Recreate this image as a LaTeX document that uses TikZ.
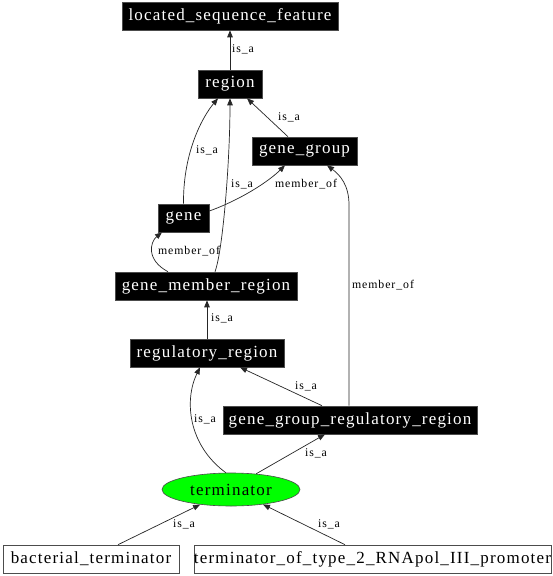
\documentclass[tikz,border=0pt]{standalone}
\usepackage{fontspec}
\setmainfont{Liberation Serif}
\newfontfamily\nodefont{Liberation Serif}[LetterSpace=7]
\newfontfamily\lblfont{Liberation Serif}[LetterSpace=8]
\usetikzlibrary{arrows.meta,shapes.geometric}
\begin{document}
\begin{tikzpicture}[x=1pt,y=-1pt,
  blk/.style={draw=black!70,fill=black,text=white,inner sep=0pt,minimum height=28pt,font=\nodefont\fontsize{17}{19}\selectfont,line width=0.6pt},
  wht/.style={draw=black!70,fill=white,text=black,inner sep=0pt,minimum height=28pt,font=\nodefont\fontsize{17}{19}\selectfont,line width=0.6pt},
  lbl/.style={inner sep=0pt,font=\lblfont\fontsize{11.8}{13}\selectfont},
  edge/.style={draw=black!85,line width=0.7pt,-{Triangle[length=7pt,width=5.5pt]}}]
\useasboundingbox[fill=white] (0,0) rectangle (552,576);
\node[blk,minimum width=216pt] (lsf) at (230,16) {located\_sequence\_feature};
\node[blk,minimum width=64pt] (region) at (230,84) {region};
\node[blk,minimum width=105pt] (gg) at (304.5,151) {gene\_group};
\node[blk,minimum width=51pt] (gene) at (183.5,218) {gene};
\node[blk,minimum width=182pt] (gmr) at (206,286) {gene\_member\_region};
\node[blk,minimum width=154pt] (reg) at (207,353) {regulatory\_region};
\node[blk,minimum width=254pt] (ggrr) at (350,420) {gene\_group\_regulatory\_region};
\node[ellipse,draw=black!70,fill={rgb,255:red,0;green,255;blue,0},inner sep=0pt,minimum width=138pt,minimum height=33pt,font=\nodefont\fontsize{17}{19}\selectfont,line width=0.6pt] (term) at (231,489.5) {terminator};
\node[wht,minimum width=176pt] (bact) at (91,559) {bacterial\_terminator};
\node[wht,minimum width=357pt] (tot) at (372.5,559) {terminator\_of\_type\_2\_RNApol\_III\_promoter};
% edges
\draw[edge] (region.north) -- (lsf.south);
\node[lbl] (l1) at (243,49) {is\_a};
\draw[edge] (gene.north) .. controls (183,150) and (204,115) .. ([xshift=-12pt]region.south);
\node[lbl] (l2) at (207,150) {is\_a};
\draw[edge] ([xshift=9pt]gmr.north) .. controls (223,250) and (230,160) .. (region.south);
\node[lbl] (l3) at (242,184) {is\_a};
\draw[edge] ([xshift=-16.5pt]gg.north) -- ([xshift=17pt]region.south);
\node[lbl] (l4) at (289,117) {is\_a};
\draw[edge] ([yshift=7pt]gene.east) .. controls (240,200) and (268,182) .. ([xshift=-19.5pt]gg.south);
\node[lbl] (l5) at (306,184) {member\_of};
\draw[edge] ([xshift=-38pt]gmr.north) .. controls (146,260) and (150,242) .. ([xshift=-21.5pt]gene.south);
\node[lbl] (l6) at (189,251) {member\_of};
\draw[edge] ([xshift=-1pt]ggrr.north) -- (349,205) .. controls (349,185) and (340,175) .. ([xshift=22.5pt]gg.south);
\node[lbl] (l7) at (383,285) {member\_of};
\draw[edge] (reg.north) -- (gmr.south -| reg.north);
\node[lbl] (l8) at (222,318) {is\_a};
\draw[edge] ([xshift=-28pt]ggrr.north) -- ([xshift=33pt]reg.south);
\node[lbl] (l9) at (306,386) {is\_a};
\draw[edge] (term.107) .. controls (188,445) and (184,400) .. ([xshift=-7pt]reg.south);
\node[lbl] (l10) at (205,419) {is\_a};
\draw[edge] (term.32) -- ([xshift=-25pt]ggrr.south);
\node[lbl] (l11) at (316,453) {is\_a};
\draw[edge] ([xshift=27pt]bact.north) -- (term.206);
\node[lbl] (l12) at (184,524) {is\_a};
\draw[edge] ([xshift=-27.5pt]tot.north) -- (term.335);
\node[lbl] (l13) at (329,524) {is\_a};
\end{tikzpicture}
\end{document}
